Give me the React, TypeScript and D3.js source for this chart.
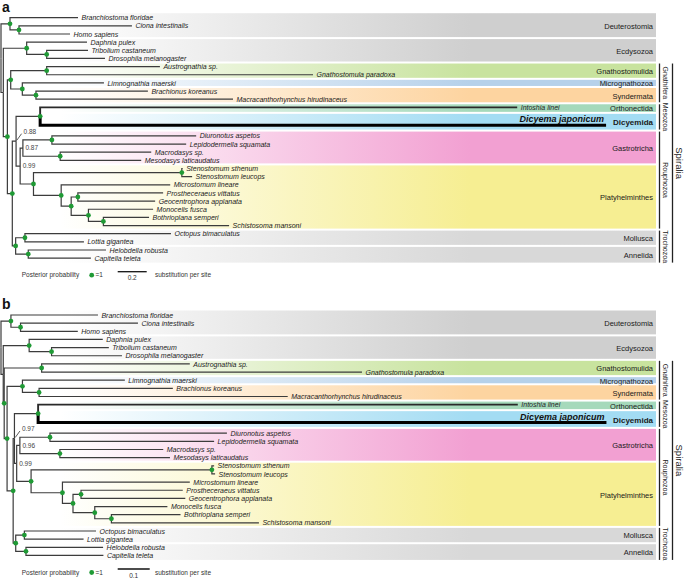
import React from "react";
import * as d3 from "d3";

type Edge = [string, string, number];

const TAXA: string[] = [
  "Branchiostoma floridae", "Ciona intestinalis", "Homo sapiens",
  "Daphnia pulex", "Tribolium castaneum", "Drosophila melanogaster",
  "Austrognathia sp.", "Gnathostomula paradoxa", "Limnognathia maerski",
  "Brachionus koreanus", "Macracanthorhynchus hirudinaceus",
  "Intoshia linei", "Dicyema japonicum",
  "Diuronotus aspetos", "Lepidodermella squamata", "Macrodasys sp.", "Mesodasys laticaudatus",
  "Stenostomum sthenum", "Stenostomum leucops", "Microstomum lineare",
  "Prostheceraeus vittatus", "Geocentrophora applanata", "Monocelis fusca",
  "Bothrioplana semperi", "Schistosoma mansoni",
  "Octopus bimaculatus", "Lottia gigantea", "Helobdella robusta", "Capitella teleta",
];

// panel a : parent, child, branch length (substitutions per site)
const EDGES_A: Edge[] = [
  ["root", "Deut", 0.062],
  ["Deut", "Branchiostoma floridae", 0.469],
  ["Deut", "CionaHomo", 0.062],
  ["CionaHomo", "Ciona intestinalis", 0.779],
  ["CionaHomo", "Homo sapiens", 0.352],
  ["root", "Proto", 0.016],
  ["Proto", "Ecdy", 0.161],
  ["Ecdy", "Daphnia pulex", 0.416],
  ["Ecdy", "TriDros", 0.138],
  ["TriDros", "Tribolium castaneum", 0.285],
  ["TriDros", "Drosophila melanogaster", 0.402],
  ["Proto", "Spiralia", 0.028],
  ["Spiralia", "Gnathifera", 0.023],
  ["Gnathifera", "Gnathostomulida", 0.248],
  ["Gnathostomulida", "Austrognathia sp.", 0.781],
  ["Gnathostomulida", "Gnathostomula paradoxa", 1.837],
  ["Gnathifera", "LimnoSynd", 0.08],
  ["LimnoSynd", "Limnognathia maerski", 0.563],
  ["LimnoSynd", "Syndermata", 0.094],
  ["Syndermata", "Brachionus koreanus", 0.772],
  ["Syndermata", "Macracanthorhynchus hirudinaceus", 1.359],
  ["Spiralia", "X", 0.034],
  ["X", "Y", 0.026],
  ["Y", "Mesozoa", 0.166],
  ["Mesozoa", "Intoshia linei", 3.29],
  ["Mesozoa", "Dicyema japonicum", 3.903],
  ["Y", "Rouphozoa", 0.028],
  ["Rouphozoa", "Gastrotricha", 0.019],
  ["Gastrotricha", "Chaetonotida", 0.2],
  ["Chaetonotida", "Diuronotus aspetos", 0.995],
  ["Chaetonotida", "Lepidodermella squamata", 0.926],
  ["Gastrotricha", "Macrodasyida", 0.257],
  ["Macrodasyida", "Macrodasys sp.", 0.628],
  ["Macrodasyida", "Mesodasys laticaudatus", 0.559],
  ["Rouphozoa", "Platyhelminthes", 0.092],
  ["Platyhelminthes", "Catenulida", 1.023],
  ["Catenulida", "Stenostomum sthenum", 0.006],
  ["Catenulida", "Stenostomum leucops", 0.071],
  ["Platyhelminthes", "Rhabditophora", 0.191],
  ["Rhabditophora", "Microstomum lineare", 0.752],
  ["Rhabditophora", "R2", 0.069],
  ["R2", "Polycladida", 0.046],
  ["Polycladida", "Prostheceraeus vittatus", 0.588],
  ["Polycladida", "Geocentrophora applanata", 0.533],
  ["R2", "R3", 0.119],
  ["R3", "Monocelis fusca", 0.446],
  ["R3", "R4", 0.103],
  ["R4", "Bothrioplana semperi", 0.315],
  ["R4", "Schistosoma mansoni", 0.867],
  ["X", "Trochozoa", 0.023],
  ["Trochozoa", "Mollusca", 0.064],
  ["Mollusca", "Octopus bimaculatus", 1.007],
  ["Mollusca", "Lottia gigantea", 0.407],
  ["Trochozoa", "Annelida", 0.087],
  ["Annelida", "Helobdella robusta", 0.536],
  ["Annelida", "Capitella teleta", 0.432],
];

// panel b
const EDGES_B: Edge[] = [
  ["root", "Deut", 0.031],
  ["Deut", "Branchiostoma floridae", 0.272],
  ["Deut", "CionaHomo", 0.03],
  ["CionaHomo", "Ciona intestinalis", 0.367],
  ["CionaHomo", "Homo sapiens", 0.179],
  ["root", "Proto", 0.007],
  ["Proto", "Ecdy", 0.081],
  ["Ecdy", "Daphnia pulex", 0.23],
  ["Ecdy", "TriDros", 0.07],
  ["TriDros", "Tribolium castaneum", 0.179],
  ["TriDros", "Drosophila melanogaster", 0.22],
  ["Proto", "Spiralia", 0.003],
  ["Spiralia", "Gnathostomulida", 0.117],
  ["Gnathostomulida", "Austrognathia sp.", 0.463],
  ["Gnathostomulida", "Gnathostomula paradoxa", 1.001],
  ["Spiralia", "S2", 0.009],
  ["S2", "LimnoSynd", 0.048],
  ["LimnoSynd", "Limnognathia maerski", 0.32],
  ["LimnoSynd", "Syndermata", 0.052],
  ["Syndermata", "Brachionus koreanus", 0.418],
  ["Syndermata", "Macracanthorhynchus hirudinaceus", 0.777],
  ["S2", "X", 0.019],
  ["X", "Y", 0.004],
  ["Y", "Mesozoa", 0.074],
  ["Mesozoa", "Intoshia linei", 1.499],
  ["Mesozoa", "Dicyema japonicum", 1.776],
  ["Y", "Rouphozoa", 0.007],
  ["Rouphozoa", "Gastrotricha", 0.01],
  ["Gastrotricha", "Chaetonotida", 0.094],
  ["Chaetonotida", "Diuronotus aspetos", 0.553],
  ["Chaetonotida", "Lepidodermella squamata", 0.513],
  ["Gastrotricha", "Macrodasyida", 0.125],
  ["Macrodasyida", "Macrodasys sp.", 0.323],
  ["Macrodasyida", "Mesodasys laticaudatus", 0.344],
  ["Rouphozoa", "Platyhelminthes", 0.045],
  ["Platyhelminthes", "Catenulida", 0.565],
  ["Catenulida", "Stenostomum sthenum", 0.007],
  ["Catenulida", "Stenostomum leucops", 0.01],
  ["Platyhelminthes", "Rhabditophora", 0.098],
  ["Rhabditophora", "Microstomum lineare", 0.398],
  ["Rhabditophora", "R2", 0.033],
  ["R2", "Polycladida", 0.025],
  ["Polycladida", "Prostheceraeus vittatus", 0.318],
  ["Polycladida", "Geocentrophora applanata", 0.326],
  ["R2", "R3", 0.068],
  ["R3", "Monocelis fusca", 0.227],
  ["R3", "R4", 0.052],
  ["R4", "Bothrioplana semperi", 0.216],
  ["R4", "Schistosoma mansoni", 0.461],
  ["X", "Trochozoa", 0.008],
  ["Trochozoa", "Mollusca", 0.027],
  ["Mollusca", "Octopus bimaculatus", 0.224],
  ["Mollusca", "Lottia gigantea", 0.185],
  ["Trochozoa", "Annelida", 0.032],
  ["Annelida", "Helobdella robusta", 0.241],
  ["Annelida", "Capitella teleta", 0.242],
];

const SUPPORT_A: [string, string][] = [["Y", "0.88"], ["Gastrotricha", "0.87"], ["Rouphozoa", "0.99"]];
const SUPPORT_B: [string, string][] = [["Y", "0.97"], ["Gastrotricha", "0.96"], ["Rouphozoa", "0.99"]];
const NO_DOT = ["root", "Proto"];

const BAND_NAMES = ["Deuterostomia", "Ecdysozoa", "Gnathostomulida", "Micrognathozoa", "Syndermata",
  "Orthonectida", "Dicyemida", "Gastrotricha", "Platyhelminthes", "Mollusca", "Annelida"];
const BAND_FIRST = ["Branchiostoma floridae", "Daphnia pulex", "Austrognathia sp.", "Limnognathia maerski",
  "Brachionus koreanus", "Intoshia linei", "Dicyema japonicum", "Diuronotus aspetos",
  "Stenostomum sthenum", "Octopus bimaculatus", "Helobdella robusta"];
const BAND_LAST = ["Homo sapiens", "Drosophila melanogaster", "Gnathostomula paradoxa", "Limnognathia maerski",
  "Macracanthorhynchus hirudinaceus", "Intoshia linei", "Dicyema japonicum", "Mesodasys laticaudatus",
  "Schistosoma mansoni", "Lottia gigantea", "Capitella teleta"];
const BAND_COLORS = ["#cfcfcf", "#cfcfcf", "#c8e39e", "#b6d1ea", "#fdd4a0", "#a5d9bb", "#a3dcf3",
  "#f2a0d2", "#f6ee92", "#d8d8d8", "#d8d8d8"];

const GROUPS: [string, string, string][] = [
  ["Gnathifera", "Gnathostomulida", "Syndermata"],
  ["Mesozoa", "Orthonectida", "Dicyemida"],
  ["Rouphozoa", "Gastrotricha", "Platyhelminthes"],
  ["Trochozoa", "Mollusca", "Annelida"],
];
const SUPER: [string, string, string] = ["Spiralia", "Gnathostomulida", "Annelida"];

const FONT = "'Liberation Sans', Arial, Helvetica, sans-serif";
const ROW = 8.15;

function rowOf(i: number) {
  return i + (i >= 12 ? 1.2 : 0) + (i >= 13 ? 0.3 : 0);
}

type PanelProps = {
  letter: string; edges: Edge[]; support: [string, string][];
  scaleVal: number; pxPerUnit: number; base: number;
};

function Panel({ letter, edges, support, scaleVal, pxPerUnit, base }: PanelProps) {
  const rows = [{ id: "root", parentId: null as string | null, len: 0 },
    ...edges.map(([p, c, l]) => ({ id: c, parentId: p as string | null, len: l }))];
  const root = d3.stratify<{ id: string; parentId: string | null; len: number }>()
    .id((d) => d.id).parentId((d) => d.parentId)(rows);

  const x = d3.scaleLinear().domain([0, 1]).range([1, 1 + pxPerUnit]);
  const y = d3.scaleLinear().domain([0, 1]).range([base, base + ROW]);

  const depth = new Map<string, number>();
  const ypos = new Map<string, number>();
  root.eachBefore((n) => {
    depth.set(n.id!, n.parent ? depth.get(n.parent.id!)! + n.data.len : 0);
  });
  root.eachAfter((n) => {
    if (!n.children) ypos.set(n.id!, y(rowOf(TAXA.indexOf(n.id!))));
    else {
      const c = n.children;
      ypos.set(n.id!, (ypos.get(c[0].id!)! + ypos.get(c[c.length - 1].id!)!) / 2);
    }
  });
  const X = (id: string) => x(depth.get(id)!);
  const Y = (id: string) => ypos.get(id)!;

  const bands = BAND_NAMES.map((name, i) => {
    const f = Y(BAND_FIRST[i]);
    const l = Y(BAND_LAST[i]);
    let top = f - 4.5;
    let bottom = l + 4.5;
    if (i > 0) {
      const pl = Y(BAND_LAST[i - 1]);
      const b = Math.min((pl + f) / 2, pl + 5.5);
      top = b + 1;
    }
    if (i < BAND_NAMES.length - 1) {
      const nf = Y(BAND_FIRST[i + 1]);
      const b = Math.min((l + nf) / 2, l + 5.5);
      bottom = b - 1;
    }
    return { name, top, bottom, i };
  });
  const bandByName = new Map(bands.map((b) => [b.name, b]));

  const supportMap = new Map(support);
  const nodes = root.descendants();
  const internal = nodes.filter((n) => n.children);
  const leaves = root.leaves();

  const bandX0 = 40;
  const bandX1 = 656;

  const legendY = base + 257.5;
  const barY = base + 254;
  const barX0 = 117.7;
  const barLen = x(scaleVal) - x(0);

  return (
    <g>
      <text x={2} y={base - 6} fontFamily={FONT} fontWeight="bold" fontSize={14} fill="#111">{letter}</text>
      {bands.map((b) => (
        <g key={b.name}>
          <rect x={bandX0} y={b.top} width={bandX1 - bandX0} height={b.bottom - b.top} fill={`url(#band-grad-${b.i})`} />
          <text x={653} y={(b.top + b.bottom) / 2 + 0.8} dy="0.35em" textAnchor="end" fontFamily={FONT}
            fontSize={b.name === "Dicyemida" ? 8 : 7.5} fontWeight={b.name === "Dicyemida" ? "bold" : "normal"}
            fill="#1a1a1a">{b.name}</text>
        </g>
      ))}
      {GROUPS.map(([name, a, z]) => {
        const t = bandByName.get(a)!.top;
        const bt = bandByName.get(z)!.bottom;
        const cy = (t + bt) / 2;
        return (
          <g key={name}>
            <line x1={659.5} x2={659.5} y1={t} y2={bt} stroke="#222" strokeWidth={1.3} />
            <text x={665.5} y={cy} dy="0.35em" textAnchor="middle" fontFamily={FONT} fontSize={7}
              fill="#222" transform={`rotate(90, 665.5, ${cy})`}>{name}</text>
          </g>
        );
      })}
      {(() => {
        const t = bandByName.get(SUPER[1])!.top;
        const bt = bandByName.get(SUPER[2])!.bottom;
        const cy = (t + bt) / 2;
        return (
          <g>
            <line x1={672.5} x2={672.5} y1={t} y2={bt} stroke="#222" strokeWidth={1.3} />
            <text x={679.5} y={cy} dy="0.35em" textAnchor="middle" fontFamily={FONT} fontSize={9.5}
              fill="#222" transform={`rotate(90, 679.5, ${cy})`}>{SUPER[0]}</text>
          </g>
        );
      })()}
      {nodes.filter((n) => n.parent).map((n) => {
        const id = n.id!;
        const p = n.parent!.id!;
        const isD = id === "Dicyema japonicum";
        const isI = id === "Intoshia linei";
        return (
          <path key={id} d={`M${X(p)},${Y(p)}V${Y(id)}H${X(id)}`} fill="none"
            stroke={isD ? "#000" : isI ? "#2a2a2a" : "#3c3c3c"}
            strokeWidth={isD ? 3 : isI ? 1.9 : 1.2} />
        );
      })}
      {internal.filter((n) => !NO_DOT.includes(n.id!) && !supportMap.has(n.id!)).map((n) => (
        <circle key={n.id} cx={X(n.id!)} cy={Y(n.id!)} r={2.4} fill="#1f9a35" />
      ))}
      {support.map(([id, v]) => {
        const nx = X(id), ny = Y(id);
        if (id === "Y") {
          return (
            <g key={id}>
              <line x1={nx + 0.8} y1={ny - 1} x2={nx + 5.5} y2={ny - 7.5} stroke="#333" strokeWidth={0.8} />
              <text x={nx + 7.5} y={ny - 9.5} dy="0.35em" fontFamily={FONT} fontSize={6.5} fill="#444">{v}</text>
            </g>
          );
        }
        return (
          <text key={id} x={nx + 2.5} y={ny} dy="0.35em" fontFamily={FONT} fontSize={6.5} fill="#444">{v}</text>
        );
      })}
      {leaves.map((n) => {
        const id = n.id!;
        if (id === "Dicyema japonicum") {
          return (
            <text key={id} x={X(id) - 2} y={Y(id) - 3} textAnchor="end" fontFamily={FONT} fontSize={9}
              fontWeight="bold" fontStyle="italic" fill="#111">{id}</text>
          );
        }
        return (
          <text key={id} x={X(id) + 3.5} y={Y(id) + 2.6} fontFamily={FONT} fontSize={7}
            fontStyle="italic" fill="#222">{id}</text>
        );
      })}
      <text x={21.7} y={legendY} dy="0.35em" fontFamily={FONT} fontSize={6.5} fill="#333">Posterior probability</text>
      <circle cx={91.7} cy={legendY} r={2.4} fill="#1f9a35" />
      <text x={95.5} y={legendY} dy="0.35em" fontFamily={FONT} fontSize={6.5} fill="#333">=1</text>
      <line x1={barX0} x2={barX0 + barLen} y1={barY} y2={barY} stroke="#111" strokeWidth={1.3} />
      <text x={barX0 + barLen / 2} y={legendY + 3} dy="0.35em" textAnchor="middle" fontFamily={FONT} fontSize={6.5} fill="#333">{scaleVal}</text>
      <text x={155} y={legendY} dy="0.35em" fontFamily={FONT} fontSize={6.5} fill="#333">substitution per site</text>
    </g>
  );
}

export default function App() {
  return (
    <svg width={685} height={578} viewBox="0 0 685 578"
      style={{ position: "absolute", left: 0, top: 0, background: "#fff" }}>
      <defs>
        {BAND_COLORS.map((c, i) => (
          <linearGradient key={i} id={`band-grad-${i}`} gradientUnits="userSpaceOnUse" x1={60} x2={470} y1={0} y2={0}>
            <stop offset="0" stopColor={c} stopOpacity={0} />
            <stop offset="1" stopColor={c} stopOpacity={1} />
          </linearGradient>
        ))}
      </defs>
      <rect x={0} y={0} width={685} height={578} fill="#fff" />
      <Panel letter="a" edges={EDGES_A} support={SUPPORT_A} scaleVal={0.2} pxPerUnit={145} base={17.7} />
      <Panel letter="b" edges={EDGES_B} support={SUPPORT_B} scaleVal={0.1} pxPerUnit={320} base={315} />
    </svg>
  );
}
